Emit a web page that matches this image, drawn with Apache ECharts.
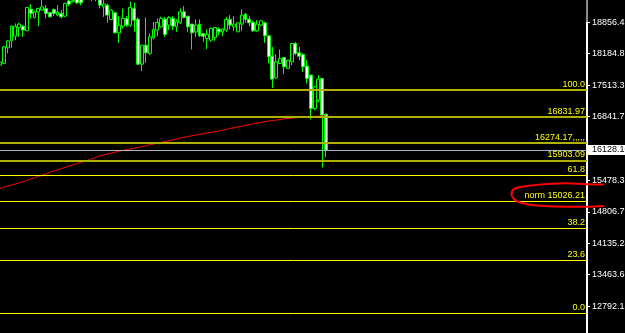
<!DOCTYPE html>
<html>
<head>
<meta charset="utf-8">
<script src="https://cdn.jsdelivr.net/npm/echarts@6.0.0/dist/echarts.min.js"></script>
<style>
  html, body { margin: 0; padding: 0; background: #000; }
  #main { width: 625px; height: 333px; }
</style>
</head>
<body>
<div id="main"></div>
<script>
// bars (o / c / l / h)
const opens = [
  17938, 17975, 18308, 18457, 18557, 18743, 18771, 18671, 19134, 18957,
  19070, 19113, 19149, 19063, 19127, 19006, 19042, 18984, 19305, 19290,
  19348, 19348, 19360, 19400, 19350, 19380, 19340, 19183, 19219, 18914,
  19055, 18628, 18771, 18935, 18792, 19149, 18920, 17959, 18365, 18188,
  18521, 18686, 18756, 18920, 18792, 18935, 18756, 18841, 19076, 18984,
  18814, 18649, 18814, 18615, 18508, 18472, 18530, 18707, 18649, 18686,
  18914, 18756, 18649, 18814, 19027, 18920, 18850, 18671, 18792, 18841,
  18564, 18130, 17667, 17974, 18103, 17868, 18009, 18401, 18201, 18167,
  17917, 17725, 17013, 17191, 17654, 16892
];
const closes = [
  18002, 18329, 18457, 18771, 18771, 18814, 18686, 19170, 19042, 19076,
  19149, 19183, 19042, 18969, 19042, 19076, 18969, 19256, 19241, 19315,
  19268, 19268, 19400, 19370, 19380, 19340, 19219, 19241, 19006, 19113,
  18628, 18792, 18935, 18792, 19170, 18899, 17959, 18365, 18201, 18543,
  18700, 18850, 18935, 18594, 18957, 18771, 18863, 19076, 18957, 18756,
  18628, 18792, 18564, 18557, 18594, 18722, 18743, 18649, 18707, 18914,
  18792, 18814, 18841, 19006, 18914, 18841, 18671, 18814, 18884, 18564,
  18116, 17639, 18009, 18081, 17902, 18045, 18401, 18188, 18130, 17902,
  17654, 17013, 17475, 17639, 16870, 16128.1
];
const lows = [
  17917, 17959, 18188, 18308, 18472, 18542, 18542, 18664, 18935, 18935,
  18771, 19102, 18935, 18957, 18984, 18984, 18935, 18963, 19198, 19283,
  19241, 19219, 19340, 19345, 19305, 19305, 19149, 18969, 18842, 18900,
  18615, 18414, 18722, 18756, 18756, 18649, 17938, 17810, 17987, 18152,
  18487, 18557, 18743, 18542, 18686, 18686, 18649, 18814, 18935, 18649,
  18274, 18542, 18542, 18436, 18280, 18436, 18457, 18579, 18557, 18649,
  18700, 18671, 18649, 18671, 18842, 18771, 18649, 18649, 18771, 18414,
  17974, 17453, 17639, 17959, 17746, 17868, 17938, 18152, 18045, 17795,
  17548, 16779, 16977, 17148, 15750, 15974
];
const highs = [
  18023, 18350, 18472, 18786, 18828, 18842, 18792, 19177, 19241, 19098,
  19162, 19340, 19219, 19076, 19149, 19219, 19113, 19269, 19340, 19370,
  19390, 19411, 19440, 19460, 19420, 19420, 19360, 19330, 19255, 19130,
  19070, 18984, 19149, 18984, 19290, 19269, 18957, 18365, 18957, 18615,
  18863, 18935, 18970, 18970, 18984, 18984, 18914, 19149, 19198, 18984,
  18814, 18914, 18914, 18615, 18700, 18743, 18743, 18743, 18722, 18970,
  19006, 18984, 18841, 19127, 19055, 18984, 18884, 18899, 18899, 18863,
  18579, 18329, 18173, 18274, 18116, 18045, 18414, 18436, 18329, 18188,
  18045, 17725, 17490, 17725, 17661, 16902
];
// moving average (red line)
const maValues = [
  15305, 15330, 15355, 15380, 15400, 15425, 15450, 15480, 15505, 15535,
  15565, 15590, 15615, 15650, 15675, 15700, 15730, 15755, 15785, 15810,
  15835, 15860, 15885, 15910, 15940, 15970, 16000, 16020, 16040, 16060,
  16080, 16100, 16120, 16135, 16150, 16165, 16180, 16200, 16215, 16240,
  16255, 16275, 16290, 16305, 16320, 16340, 16360, 16380, 16400, 16415,
  16430, 16445, 16460, 16475, 16490, 16500, 16515, 16530, 16550, 16565,
  16585, 16605, 16620, 16635, 16650, 16670, 16685, 16700, 16715, 16730,
  16745, 16755, 16765, 16775, 16790, 16800, 16805, 16815, 16820, 16830,
  16835, 16840, 16845, 16848, 16850, 16852
];
// price scale labels on the right
const priceTicks = [18856.42, 18184.86, 17513.31, 16841.75, 15478.35, 14806.79, 14135.24, 13463.68, 12792.13];
const currentPrice = 16128.1;
// horizontal levels (fibo + manual lines)
const levelValues = [17407.1, 16831.97, 16274.17, 15903.09, 15581.5, 15026.21, 14449.8, 13766.4, 12634.7];
const levelLabels = ['100.0', '16831.97', '16274.17,,,,,', '15903.09', '61.8', 'norm 15026.21', '38.2', '23.6', '0.0'];

const totalSlots = 154; // chart shift leaves empty space on the right
const slots = Array.from({ length: totalSlots }, (_, i) => String(i));

const chart = echarts.init(document.getElementById('main'));

const candleData = opens.map((o, i) => [o, closes[i], lows[i], highs[i]]);

const levelLines = levelValues.map((v, i) => {
  const olive = i < 4;
  return {
    yAxis: v,
    lineStyle: { color: olive ? '#b0b000' : '#ffff00', width: olive ? 2 : 1, type: 'solid' },
    label: { formatter: levelLabels[i] }
  };
});
levelLines.push({
  yAxis: currentPrice,
  lineStyle: { color: '#a8b4c4', width: 1, type: 'solid' },
  label: {
    position: 'end',
    formatter: currentPrice.toFixed(2),
    color: '#000',
    backgroundColor: '#fff',
    padding: [1, 10, 0, 4],
    distance: 1
  }
});

chart.setOption({
  backgroundColor: '#000',
  animation: false,
  grid: { left: 0, right: 38, top: 0, bottom: 0, outerBoundsMode: 'none', containLabel: false },
  xAxis: {
    type: 'category',
    data: slots,
    boundaryGap: false,
    show: false
  },
  yAxis: {
    type: 'value',
    position: 'right',
    min: 12218.4,
    max: 19328.9,
    splitLine: { show: false },
    axisLine: { show: true, lineStyle: { color: '#fff', width: 2 } },
    axisTick: { show: true, customValues: priceTicks, length: 3, lineStyle: { color: '#fff' } },
    axisLabel: {
      customValues: priceTicks,
      color: '#fff',
      fontSize: 9,
      fontFamily: 'Liberation Sans',
      margin: 5,
      formatter: (v) => v.toFixed(2)
    }
  },
  series: [
    {
      type: 'candlestick',
      data: candleData,
      barWidth: 3.4,
      itemStyle: {
        color: '#000',
        color0: '#ffffff',
        borderColor: '#00ff00',
        borderColor0: '#00ff00',
        borderWidth: 1
      },
      markLine: {
        silent: true,
        symbol: 'none',
        label: {
          position: 'insideEndTop',
          color: '#ffff00',
          fontSize: 9,
          fontFamily: 'Liberation Sans',
          distance: [2, 1]
        },
        data: levelLines
      }
    },
    {
      type: 'line',
      data: maValues,
      showSymbol: false,
      lineStyle: { color: '#ff0000', width: 1 },
      z: 3
    }
  ],
  graphic: [
    // grey top part of the scale border
    {
      type: 'rect',
      z: 100,
      shape: { x: 586, y: 0, width: 2, height: 22 },
      style: { fill: '#8a8a8a' }
    },
    // hand drawn red loop around the "norm" label
    {
      type: 'polyline',
      z: 100,
      shape: {
        smooth: 0.4,
        points: [[604, 184.5], [587, 184.3], [567, 183.3], [547, 184], [527, 186], [515, 188.5],
                 [511.5, 193.5], [513.5, 198.5], [520, 202.5], [540, 205.8], [567, 206.7], [587, 206.7], [604, 206]]
      },
      style: { stroke: '#ff0000', lineWidth: 2, fill: null }
    }
  ]
});
</script>
</body>
</html>
